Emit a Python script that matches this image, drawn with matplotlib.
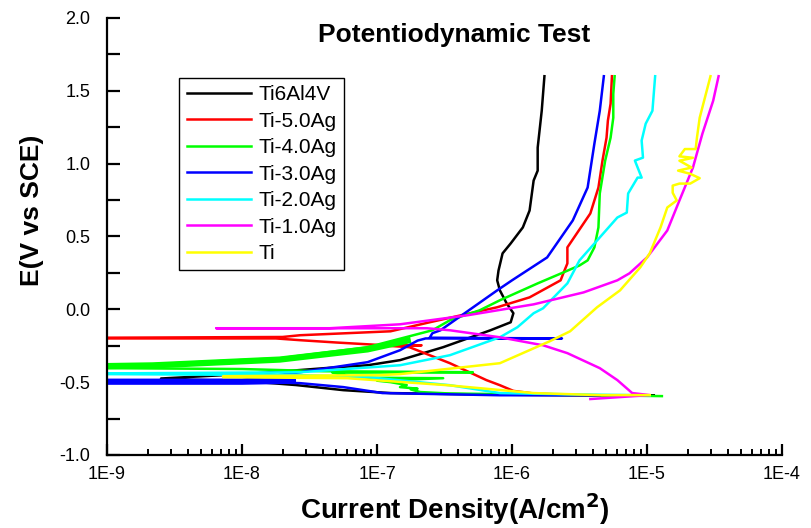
import numpy as np
import matplotlib
matplotlib.use("Agg")
import matplotlib.pyplot as plt
from matplotlib.ticker import FixedLocator, LogLocator, NullFormatter

plt.rcParams['font.family'] = ['Liberation Sans', 'DejaVu Sans']
plt.rcParams['axes.unicode_minus'] = False

# data: log10(current density, A/cm2) and potential (V vs SCE)
# each curve: cathodic branch (high current -> Ecorr), then anodic branch up to 1.6 V
labels = ['Ti6Al4V', 'Ti-5.0Ag', 'Ti-4.0Ag', 'Ti-3.0Ag', 'Ti-2.0Ag', 'Ti-1.0Ag', 'Ti']
colors = ['black', 'red', '#00ff00', 'blue', 'cyan', 'magenta', 'yellow']

ti6al4v_logi = [-4.95, -5.6, -6.2, -6.9, -7.25, -7.6, -7.95, -8.3, -8.6,
                -8.6, -7.9, -7.33, -7.07, -6.83, -6.51, -6.16, -6.01, -5.99, -6.04, -6.09,
                -6.11, -6.10, -6.07, -6.01, -5.92, -5.87, -5.84, -5.81, -5.81, -5.78, -5.76]
ti6al4v_e = [-0.59, -0.59, -0.585, -0.575, -0.555, -0.52, -0.495, -0.485, -0.48,
             -0.475, -0.44, -0.40, -0.384, -0.349, -0.26, -0.144, -0.089, -0.027, 0.041, 0.13,
             0.199, 0.267, 0.384, 0.452, 0.562, 0.678, 0.884, 0.952, 1.11, 1.363, 1.6]

ag50_logi = [-4.98, -5.5, -5.84, -5.99, -6.09, -6.19, -6.46, -6.76, -6.98, -6.67, -6.98,
             -7.3, -7.57, -7.75, -9.0,
             -9.0, -7.70, -7.57, -6.90, -6.61, -6.11, -5.87, -5.64, -5.62, -5.59, -5.59,
             -5.52, -5.42, -5.36, -5.33, -5.30, -5.29, -5.27, -5.26]
ag50_e = [-0.59, -0.59, -0.578, -0.56, -0.521, -0.486, -0.37, -0.26, -0.247, -0.247, -0.245,
          -0.228, -0.212, -0.20, -0.20,
          -0.195, -0.19, -0.178, -0.151, -0.089, 0.014, 0.082, 0.199, 0.247, 0.315, 0.425,
          0.521, 0.658, 0.836, 1.021, 1.178, 1.295, 1.411, 1.6]

ag40_logi = [-4.89, -5.35, -6.46, -6.68, -6.75, -6.70, -6.83, -6.78, -6.90, -7.0, -6.51,
             -7.05, -7.20, -7.33, -6.29, -7.4, -8.0, -9.0,
             -9.0, -8.66, -7.72, -7.07, -6.59, -6.46, -6.24, -6.09, -5.81, -5.62, -5.50,
             -5.44, -5.39, -5.36, -5.35, -5.31, -5.27, -5.25, -5.25, -5.24]
ag40_e = [-0.596, -0.59, -0.578, -0.568, -0.55, -0.545, -0.534, -0.52, -0.50, -0.49, -0.473,
          -0.47, -0.459, -0.435, -0.432, -0.425, -0.41, -0.404,
          -0.377, -0.377, -0.336, -0.26, -0.144, -0.075, -0.007, 0.062, 0.178, 0.253, 0.301,
          0.336, 0.425, 0.562, 0.795, 1.021, 1.178, 1.315, 1.479, 1.6]

ag30_logi = [-5.35, -6.09, -6.96, -7.25, -7.57, -7.94, -9.0,
             -9.0, -8.0, -7.57, -7.07, -6.83, -6.70, -6.64, -5.63, -6.61, -6.59, -6.53,
             -6.11, -6.0, -5.74, -5.55, -5.44, -5.39, -5.35, -5.32]
ag30_e = [-0.59, -0.59, -0.575, -0.534, -0.507, -0.497, -0.497,
          -0.49, -0.485, -0.432, -0.363, -0.281, -0.215, -0.20, -0.20, -0.195, -0.164, -0.144,
          0.13, 0.199, 0.356, 0.61, 0.836, 1.137, 1.363, 1.6]

ag20_logi = [-4.98, -5.5, -6.09, -6.46, -7.07, -7.57, -9.0,
             -9.0, -7.57, -6.83, -6.46, -6.09, -5.96, -5.84, -5.77, -5.59, -5.50, -5.22,
             -5.15, -5.14, -5.07, -5.04, -5.09, -5.03, -5.04, -5.01, -4.96, -4.94]
ag20_e = [-0.59, -0.585, -0.575, -0.521, -0.466, -0.452, -0.445,
          -0.44, -0.432, -0.384, -0.315, -0.192, -0.123, -0.027, 0.007, 0.178, 0.336, 0.63,
          0.664, 0.795, 0.904, 0.904, 1.021, 1.041, 1.158, 1.274, 1.363, 1.6]

ag10_logi = [-5.42, -4.98, -5.11, -5.22, -5.35, -5.59, -5.77, -6.09, -6.46, -6.63, -8.19,
             -8.19, -7.35, -6.83, -6.33, -5.84, -5.47, -5.22, -5.13, -5.00, -4.85, -4.76,
             -4.66, -4.59, -4.51, -4.47]
ag10_e = [-0.616, -0.589, -0.575, -0.486, -0.404, -0.301, -0.247, -0.192, -0.144, -0.13, -0.13,
          -0.13, -0.13, -0.103, -0.041, 0.034, 0.116, 0.199, 0.247, 0.356, 0.541, 0.747,
          0.973, 1.205, 1.432, 1.6]

ti_logi = [-4.98, -5.35, -5.84, -6.48, -7.22, -8.14,
           -8.14, -6.98, -6.83, -6.09, -5.72, -5.57, -5.37, -5.20, -5.05, -4.98, -4.90, -4.85,
           -4.78, -4.81, -4.81, -4.76, -4.68, -4.61, -4.68, -4.77, -4.67, -4.76, -4.66, -4.76,
           -4.72, -4.64, -4.63, -4.61, -4.53]
ti_e = [-0.589, -0.589, -0.575, -0.521, -0.473, -0.466,
        -0.459, -0.452, -0.445, -0.37, -0.219, -0.151, 0.014, 0.13, 0.288, 0.384, 0.562, 0.699,
        0.747, 0.80, 0.849, 0.863, 0.863, 0.90, 0.93, 0.952, 0.973, 1.02, 1.04, 1.05,
        1.10, 1.10, 1.18, 1.315, 1.6]

# noisy thick bands near the corrosion potential
green_band_logi = [-9.0, -8.66, -7.72, -7.07, -6.75]
green_band_e = [-0.39, -0.385, -0.345, -0.275, -0.21]
blue_band_logi = [-9.0, -8.0, -7.6]
blue_band_e = [-0.497, -0.497, -0.49]

series = [(ti6al4v_logi, ti6al4v_e), (ag50_logi, ag50_e), (ag40_logi, ag40_e),
          (ag30_logi, ag30_e), (ag20_logi, ag20_e), (ag10_logi, ag10_e), (ti_logi, ti_e)]

fig = plt.figure(figsize=(8.12, 5.28), dpi=100)
ax = fig.add_axes([0.1318, 0.1383, 0.8313, 0.8277])

lw = 1.8
for (li, e), lab, c in zip(series, labels, colors):
    if lab == 'Ti-4.0Ag':
        ax.plot(10 ** np.array(green_band_logi), green_band_e, color=c, lw=4.5, solid_capstyle='butt')
    if lab == 'Ti-3.0Ag':
        ax.plot(10 ** np.array(blue_band_logi), blue_band_e, color=c, lw=4.5, solid_capstyle='butt')
    ax.plot(10 ** np.array(li), e, color=c, lw=lw, label=lab)

ax.set_xscale('log')
ax.set_xlim(1e-9, 1e-4)
ax.set_ylim(-1.0, 2.0)

for s in ['top', 'right']:
    ax.spines[s].set_visible(False)
for s in ['left', 'bottom']:
    ax.spines[s].set_linewidth(1.6)

ax.set_xticks([1e-9, 1e-8, 1e-7, 1e-6, 1e-5, 1e-4])
ax.set_xticklabels(['1E-9', '1E-8', '1E-7', '1E-6', '1E-5', '1E-4'])
ax.xaxis.set_minor_locator(LogLocator(base=10, subs=np.arange(2, 10), numticks=20))
ax.xaxis.set_minor_formatter(NullFormatter())
ax.set_yticks(np.arange(-1.0, 2.01, 0.5))
ax.set_yticklabels(['%.1f' % v for v in np.arange(-1.0, 2.01, 0.5)])
ax.yaxis.set_minor_locator(FixedLocator(np.arange(-0.75, 2.0, 0.5)))

ax.tick_params(axis='x', which='major', direction='in', length=8, width=1.6, labelsize=13, pad=8)
ax.tick_params(axis='x', which='minor', direction='in', length=4, width=1.4)
ax.tick_params(axis='y', which='both', direction='in', length=9, width=1.6, labelsize=13, pad=12)

ax.set_xlabel('Current Density(A/cm$^\\mathbf{2}$)', fontsize=20, fontweight='bold')
ax.xaxis.set_label_coords(0.516, -0.083)
ax.set_ylabel('E(V vs SCE)', fontsize=19, fontweight='bold')
ax.yaxis.set_label_coords(-0.094, 0.56)

ax.text(0.514, 0.961, 'Potentiodynamic Test', transform=ax.transAxes, ha='center', va='center',
        fontsize=19, fontweight='bold')

leg = ax.legend(loc='upper left', bbox_to_anchor=(0.107, 0.863), fontsize=15, frameon=True,
                fancybox=False, edgecolor='black', framealpha=1, borderaxespad=0,
                handlelength=3.1, handletextpad=0.35, labelspacing=0.36, borderpad=0.35)
leg.get_frame().set_linewidth(1.0)

fig.savefig('out.png', dpi=100)
